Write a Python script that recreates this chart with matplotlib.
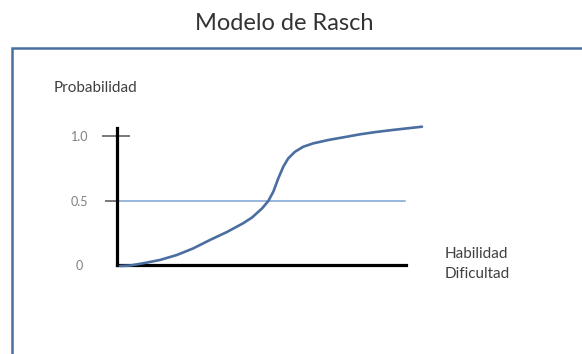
import matplotlib
matplotlib.use("Agg")
import matplotlib.pyplot as plt
from matplotlib.patches import Rectangle

# ---- data ----
ability = [0.104, 0.451, 0.903, 1.493, 2.083, 2.639, 3.229, 3.819, 4.375, 4.688,
           4.851, 5.035, 5.253, 5.427, 5.601, 5.774, 5.948, 6.181, 6.469, 6.816,
           7.337, 7.917, 8.438, 8.993, 9.583, 10.104, 10.590]
probability = [-0.008, -0.004, 0.013, 0.039, 0.078, 0.128, 0.194, 0.256, 0.323, 0.368,
               0.401, 0.438, 0.496, 0.568, 0.672, 0.762, 0.827, 0.878, 0.917, 0.943,
               0.969, 0.992, 1.013, 1.031, 1.047, 1.060, 1.072]
ref_level = 0.5
ytick_values = [0, 0.5, 1.0]
ytick_labels = ["0", "0.5", "1.0"]
title = "Modelo de Rasch"
ylabel = "Probabilidad"
xlabel_lines = ["Habilidad", "Dificultad"]

W, H = 582, 354
fig = plt.figure(figsize=(W / 100, H / 100), dpi=100)
plt.rcParams['font.family'] = ['Lato', 'DejaVu Sans']

def fx(px):
    return px / W

def fy(py):
    return 1 - py / H

# axes: x 0..10.7 mapped to px 117.. ; y 0..1.1 mapped from px 265 upward (129 px/unit)
xpx_per = 28.8
ypx_per = 129.0
x_max, y_max = 10.7, 1.1
ax = fig.add_axes([fx(117), fy(265), x_max * xpx_per / W, y_max * ypx_per / H])
ax.set_xlim(0, x_max)
ax.set_ylim(0, y_max)
ax.patch.set_alpha(0)

for s in ["top", "right"]:
    ax.spines[s].set_visible(False)
for s in ["left", "bottom"]:
    ax.spines[s].set_linewidth(2.3)
    ax.spines[s].set_color("black")
ax.spines["left"].set_bounds(0, 1.06)
ax.spines["bottom"].set_bounds(0, 10.03)

ax.set_xticks([])
ax.set_yticks(ytick_values)
ax.set_yticklabels(ytick_labels)
ax.tick_params(axis="y", length=0, pad=27, labelsize=9, labelcolor="#7f7f7f")
for lab in ax.get_yticklabels():
    lab.set_horizontalalignment("center")

# tick marks
ax.plot([-0.53, 0.46], [1.0, 1.0], color="#555555", lw=1.1, clip_on=False,
        solid_capstyle="butt")
ax.plot([-0.42, 0], [0.5, 0.5], color="#555555", lw=1.1, clip_on=False,
        solid_capstyle="butt")

# reference line at 0.5
ax.plot([0, 10.0], [ref_level, ref_level], color="#7fa3d3", lw=1.1)

# curve
ax.plot(ability, probability, color="#4a6e9f", lw=1.9, clip_on=False,
        solid_joinstyle="round", solid_capstyle="round", zorder=5)

# frame (only top and left edges visible)
fig.add_artist(Rectangle((fx(12), fy(400)), 1.0, (400 - 47.5) / H,
                         transform=fig.transFigure, fill=False,
                         edgecolor="#4a6fa0", lw=1.8))

# texts
fig.text(fx(284), fy(23), title, ha="center", va="center", fontsize=17,
         color="#333333")
fig.text(fx(54), fy(88), ylabel, ha="left", va="center", fontsize=11,
         color="#404040")
fig.text(fx(445), fy(254), xlabel_lines[0], ha="left", va="center",
         fontsize=11, color="#404040")
fig.text(fx(445), fy(274), xlabel_lines[1], ha="left", va="center",
         fontsize=11, color="#404040")

fig.savefig("out.png", dpi=100)
